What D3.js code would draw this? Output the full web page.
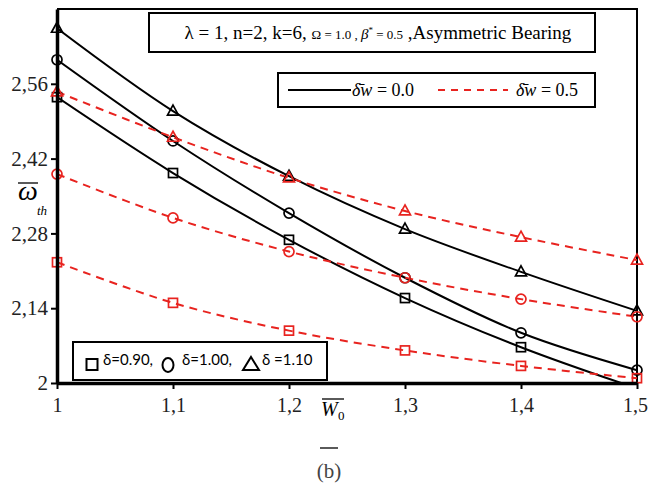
<!DOCTYPE html>
<meta charset="utf-8">
<style>
  body { margin: 0; background: #fff; }
  svg text { font-family: "Liberation Serif", "Times New Roman", serif; }
</style>
<body>
<svg width="649" height="485"></svg>
<script src="https://d3js.org/d3.v7.min.js"></script>
<script>
// data
var loads = [1, 1.1, 1.2, 1.3, 1.4, 1.5];
var xTicks = ["1", "1,1", "1,2", "1,3", "1,4", "1,5"];
var yTicks = [2, 2.14, 2.28, 2.42, 2.56];

// delta w = 0.0 (solid black)
var sq00 = [2.535, 2.393, 2.268, 2.159, 2.067, 1.99];
var ci00 = [2.605, 2.453, 2.318, 2.197, 2.094, 2.024];
var tr00 = [2.664, 2.509, 2.387, 2.288, 2.208, 2.135];
// delta w = 0.5 (dashed red)
var sq05 = [2.226, 2.150, 2.098, 2.061, 2.032, 2.009];
var ci05 = [2.391, 2.309, 2.246, 2.197, 2.157, 2.124];
var tr05 = [2.545, 2.460, 2.384, 2.322, 2.273, 2.230];

var series = [
  { vals: sq00, mark: "square", color: "#000", dash: null },
  { vals: ci00, mark: "circle", color: "#000", dash: null },
  { vals: tr00, mark: "triangle", color: "#000", dash: null },
  { vals: sq05, mark: "square", color: "#e8231f", dash: "8,6" },
  { vals: ci05, mark: "circle", color: "#e8231f", dash: "8,6" },
  { vals: tr05, mark: "triangle", color: "#e8231f", dash: "8,6" }
];

var margin = { top: 9, right: 12, bottom: 102, left: 57 },
    width = 649, height = 485;

var svg = d3.select("svg");

var x = d3.scaleLinear().domain([1, 1.5]).range([margin.left, width - margin.right]);
var y = d3.scaleLinear().domain([2, 2.7]).range([height - margin.bottom, margin.top]);

svg.append("clipPath").attr("id", "plot")
  .append("rect")
  .attr("x", margin.left).attr("y", margin.top)
  .attr("width", x(1.5) - x(1) + 8).attr("height", y(2) - y(2.7));

// top and right border
svg.append("path")
  .attr("d", "M" + x(1) + "," + y(2.7) + "H" + x(1.5) + "V" + y(2))
  .attr("fill", "none").attr("stroke", "#000").attr("stroke-width", 2);

var line = d3.line()
  .x(function (d, i) { return x(loads[i]); })
  .y(function (d) { return y(d); })
  .curve(d3.curveCatmullRom.alpha(0.5));

var g = svg.append("g").attr("clip-path", "url(#plot)");

series.forEach(function (s) {
  g.append("path")
    .attr("d", line(s.vals))
    .attr("fill", "none")
    .attr("stroke", s.color)
    .attr("stroke-width", 2)
    .attr("stroke-dasharray", s.dash);
});

function marker(sel, type, cx, cy, color) {
  if (type === "square") {
    sel.append("rect").attr("x", cx - 4.5).attr("y", cy - 4.5)
      .attr("width", 9).attr("height", 9);
  } else if (type === "circle") {
    sel.append("circle").attr("cx", cx).attr("cy", cy).attr("r", 5);
  } else {
    sel.append("path").attr("d", "M" + cx + "," + (cy - 6) + "L" + (cx + 5.5) + "," + (cy + 4) + "L" + (cx - 5.5) + "," + (cy + 4) + "Z");
  }
  sel.selectAll(":last-child")
    .attr("fill", "none").attr("stroke", color).attr("stroke-width", 1.7);
}

series.forEach(function (s) {
  var mg = svg.append("g");
  s.vals.forEach(function (v, i) {
    if (v < 2) return;
    marker(mg, s.mark, x(loads[i]), y(v), s.color);
  });
});

// axes
var xAxis = d3.axisBottom(x).tickValues(loads)
  .tickFormat(function (d, i) { return xTicks[i]; }).tickSize(6).tickSizeOuter(0);
var gx = svg.append("g").attr("transform", "translate(0," + y(2) + ")").call(xAxis);
gx.attr("font-family", null).attr("font-size", 20);
gx.select(".domain").attr("stroke-width", 3.5);
gx.selectAll(".tick line").attr("stroke-width", 2);
gx.selectAll(".tick text").attr("dy", "1.0em").attr("fill", "#222");
gx.selectAll(".tick text").filter(function (d) { return d === 1.5; }).attr("dx", -2);

var yAxis = d3.axisLeft(y).tickValues(yTicks)
  .tickFormat(function (d) { return d3.format(".2~f")(d).replace(".", ","); })
  .tickSize(6).tickSizeOuter(0);
var gy = svg.append("g").attr("transform", "translate(" + x(1) + ",0)").call(yAxis);
gy.attr("font-family", null).attr("font-size", 21);
gy.select(".domain").attr("stroke-width", 3.5);
gy.selectAll(".tick line").attr("stroke-width", 2);
gy.selectAll(".tick text").attr("x", -9).attr("fill", "#222");

// y label
var yl = svg.append("g");
yl.append("text").attr("x", 28).attr("y", 200).attr("text-anchor", "middle")
  .style("font-size", "28px").style("font-style", "italic").text("ω");
yl.append("line").attr("x1", 18).attr("x2", 38).attr("y1", 183).attr("y2", 183)
  .attr("stroke", "#000").attr("stroke-width", 1.3);
yl.append("text").attr("x", 37).attr("y", 215)
  .style("font-size", "13px").style("font-style", "italic").text("th");

// x label
var xl = svg.append("g");
xl.append("text").attr("x", 321).attr("y", 416)
  .style("font-size", "20px").style("font-style", "italic").text("W");
xl.append("line").attr("x1", 322).attr("x2", 344).attr("y1", 399).attr("y2", 399)
  .attr("stroke", "#000").attr("stroke-width", 1.3);
xl.append("text").attr("x", 338).attr("y", 420)
  .style("font-size", "13px").text("0");

// caption
svg.append("line").attr("x1", 320).attr("x2", 338).attr("y1", 448).attr("y2", 448)
  .attr("stroke", "#000").attr("stroke-width", 1.3);
svg.append("text").attr("x", 329).attr("y", 478).attr("text-anchor", "middle")
  .attr("fill", "#444").style("font-size", "21px").text("(b)");

// title box
svg.append("rect").attr("x", 149).attr("y", 13).attr("width", 446).attr("height", 39)
  .attr("fill", "#fff").attr("stroke", "#000").attr("stroke-width", 2);
var t = svg.append("text").attr("x", 378).attr("y", 39).attr("text-anchor", "middle")
  .style("font-size", "19px");
t.append("tspan").text("λ = 1,  n=2, k=6, ");
t.append("tspan").style("font-size", "13px").text("Ω = 1.0 , ");
t.append("tspan").style("font-size", "15px").style("font-style", "italic").text("β");
t.append("tspan").style("font-size", "9px").attr("dy", -6).text("*");
t.append("tspan").style("font-size", "13px").attr("dy", 6).text(" = 0.5");
t.append("tspan").text(" ,Asymmetric Bearing");

// line legend
var lg = svg.append("g");
lg.append("rect").attr("x", 278).attr("y", 73).attr("width", 317).attr("height", 34)
  .attr("fill", "#fff").attr("stroke", "#000").attr("stroke-width", 2);
lg.append("line").attr("x1", 288).attr("x2", 351).attr("y1", 90).attr("y2", 90)
  .attr("stroke", "#000").attr("stroke-width", 2);
lg.append("text").attr("x", 352).attr("y", 96).style("font-size", "18px")
  .html('<tspan font-style="italic">δ̄w</tspan> = 0.0');
lg.append("line").attr("x1", 438).attr("x2", 508).attr("y1", 90).attr("y2", 90)
  .attr("stroke", "#e8231f").attr("stroke-width", 2).attr("stroke-dasharray", "7,6");
lg.append("text").attr("x", 516).attr("y", 96).style("font-size", "18px")
  .html('<tspan font-style="italic">δ̄w</tspan> = 0.5');

// marker legend
var ml = svg.append("g");
ml.append("rect").attr("x", 73).attr("y", 342).attr("width", 254).attr("height", 38)
  .attr("fill", "#fff").attr("stroke", "#000").attr("stroke-width", 2);
var labels = [
  { mark: "square", cx: 92, tx: 103, text: "δ=0.90," },
  { mark: "circle", cx: 168, tx: 182, text: "δ=1.00," },
  { mark: "triangle", cx: 251, tx: 262, text: "δ =1.10" }
];
labels.forEach(function (l) {
  var mg = ml.append("g");
  if (l.mark === "square") {
    mg.append("rect").attr("x", l.cx - 5.5).attr("y", 359).attr("width", 11).attr("height", 11);
  } else if (l.mark === "circle") {
    mg.append("ellipse").attr("cx", l.cx).attr("cy", 365).attr("rx", 5.5).attr("ry", 7);
  } else {
    mg.append("path").attr("d", "M" + l.cx + ",357L" + (l.cx + 8) + ",370L" + (l.cx - 8) + ",370Z");
  }
  mg.selectAll("*").attr("fill", "none").attr("stroke", "#000").attr("stroke-width", 2);
  ml.append("text").attr("x", l.tx).attr("y", 365)
    .style("font-family", "Lato, sans-serif").style("font-size", "15px").text(l.text);
});
</script>
</body>
